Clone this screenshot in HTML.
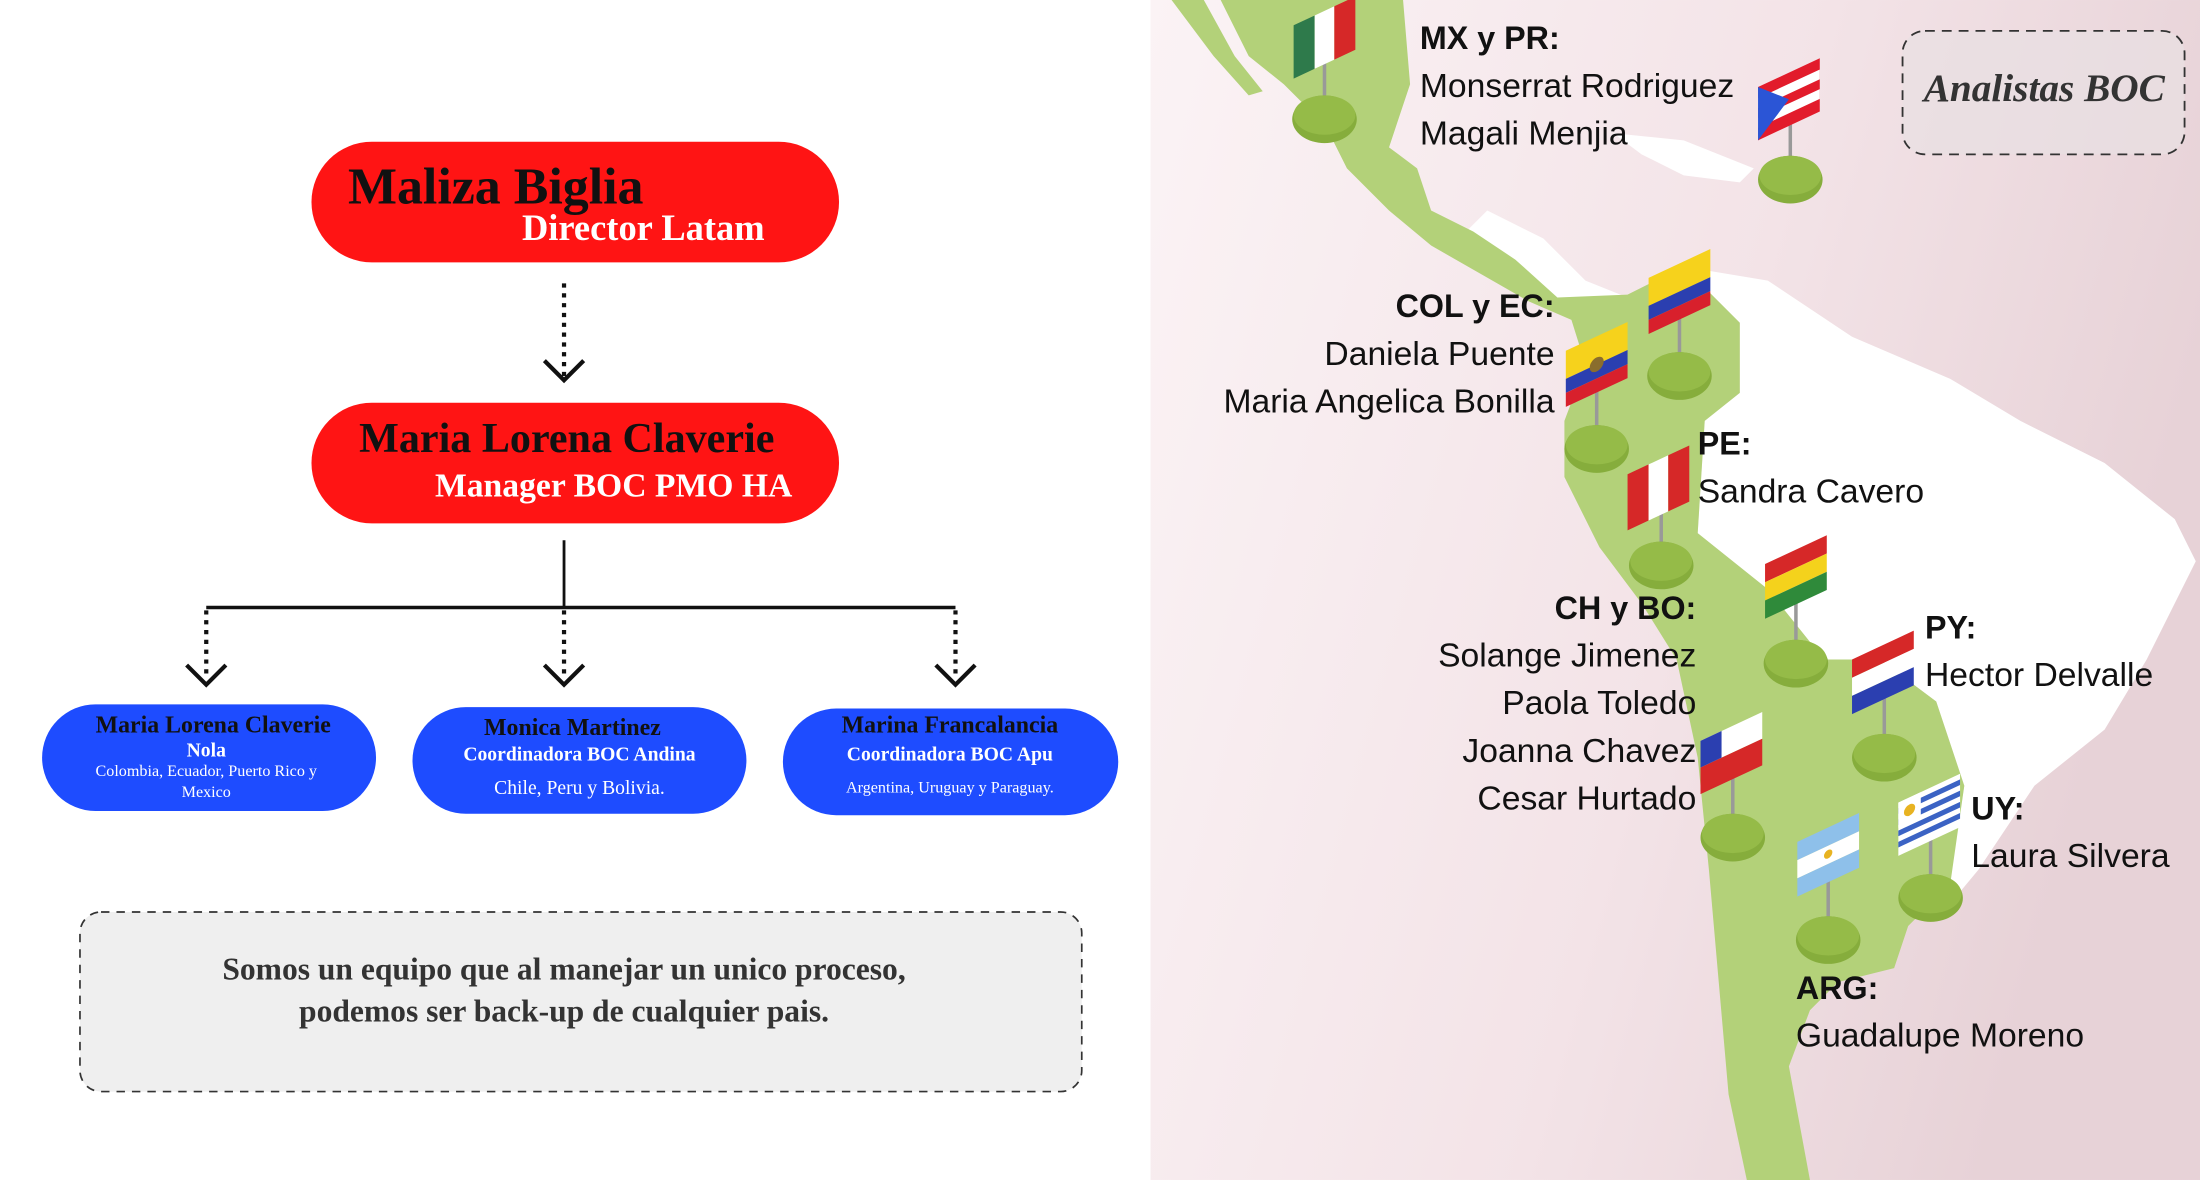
<!DOCTYPE html>
<html><head><meta charset="utf-8"><style>
html,body{margin:0;padding:0;background:#fff;width:2200px;height:1180px;overflow:hidden}
svg{display:block}
.n{font-family:"Liberation Sans",sans-serif;font-size:24px;fill:#111}
.h{font-family:"Liberation Sans",sans-serif;font-size:23px;font-weight:bold;fill:#111}
.s{font-family:"Liberation Serif",serif;font-weight:bold}
</style></head><body>
<svg width="2200" height="1180" viewBox="0 0 1568 841" xmlns="http://www.w3.org/2000/svg">
<defs>
<linearGradient id="bg" x1="0" y1="0" x2="1" y2="0.3">
<stop offset="0" stop-color="#fbf3f5"/><stop offset="0.6" stop-color="#f3e3e7"/><stop offset="1" stop-color="#e7d2d7"/>
</linearGradient>
<g id="base"><ellipse cx="0" cy="0" rx="23" ry="17" fill="#86ad3c"/><ellipse cx="0" cy="-3" rx="22" ry="14" fill="#95bb48"/></g>
</defs>
<rect x="0" y="0" width="1568" height="841" fill="#fff"/>
<rect x="820" y="0" width="748" height="841" fill="url(#bg)"/>
<!-- white land -->
<polygon fill="#fff" points="1200,190 1260,200 1320,240 1390,270 1440,300 1500,330 1550,370 1565,400 1530,470 1500,520 1450,560 1410,620 1385,650 1400,560 1380,500 1340,470 1300,470 1260,420 1210,380 1215,300 1240,280 1240,230"/>
<polygon fill="#fff" points="1040,170 1060,150 1100,170 1130,200 1160,212 1130,232 1095,215 1065,190"/>
<polygon fill="#fff" points="1150,95 1200,100 1250,120 1240,130 1200,125 1170,110"/>
<!-- green land -->
<polygon fill="#b3d179" points="870,0 1000,0 1005,60 990,105 1010,120 1020,150 1050,165 1080,185 1110,212 1160,210 1200,190 1240,230 1240,280 1215,300 1210,380 1260,420 1300,470 1340,470 1380,500 1400,560 1390,630 1360,660 1350,690 1310,700 1290,720 1275,760 1290,841 1245,841 1232,780 1225,700 1218,620 1210,540 1195,470 1170,430 1140,390 1115,340 1115,300 1130,260 1120,228 1090,215 1055,195 1020,175 990,150 960,120 945,90 915,60 890,40 880,20"/>
<polygon fill="#b3d179" points="835,0 858,0 880,40 900,65 890,68 865,40"/>
<!-- flags -->
<g stroke="#999" stroke-width="2.5">
<line x1="944" y1="30" x2="944" y2="82"/><line x1="1276" y1="80" x2="1276" y2="125"/><line x1="1197" y1="215" x2="1197" y2="265"/>
<line x1="1138" y1="275" x2="1138" y2="317"/><line x1="1184" y1="360" x2="1184" y2="400"/><line x1="1280" y1="425" x2="1280" y2="470"/>
<line x1="1343" y1="490" x2="1343" y2="537"/><line x1="1235" y1="550" x2="1235" y2="594"/><line x1="1376" y1="590" x2="1376" y2="637"/><line x1="1303" y1="625" x2="1303" y2="667"/>
</g>
<use href="#base" x="944" y="85"/><use href="#base" x="1276" y="128"/><use href="#base" x="1197" y="268"/><use href="#base" x="1138" y="320"/>
<use href="#base" x="1184" y="403"/><use href="#base" x="1280" y="473"/><use href="#base" x="1343" y="540"/><use href="#base" x="1235" y="597"/>
<use href="#base" x="1376" y="640"/><use href="#base" x="1303" y="670"/>
<g transform="translate(922,18) skewY(-25)"><rect width="15" height="38" fill="#2e7a4b"/><rect x="15" width="14" height="38" fill="#fff"/><rect x="29" width="15" height="38" fill="#d62828"/></g>
<g transform="translate(1253,62) skewY(-25)"><rect width="44" height="38" fill="#e21b2b"/><rect y="8" width="44" height="7" fill="#fff"/><rect y="22" width="44" height="7" fill="#fff"/><polygon points="0,0 22,19 0,38" fill="#2b55d6"/></g>
<g transform="translate(1175,198) skewY(-25)"><rect width="44" height="20" fill="#f6d21c"/><rect y="20" width="44" height="10" fill="#2b3fb0"/><rect y="30" width="44" height="10" fill="#d8202c"/></g>
<g transform="translate(1116,250) skewY(-25)"><rect width="44" height="20" fill="#f6d21c"/><rect y="20" width="44" height="10" fill="#2b3fb0"/><rect y="30" width="44" height="10" fill="#d8202c"/><circle cx="22" cy="20" r="5" fill="#8a6d2d"/></g>
<g transform="translate(1160,338) skewY(-25)"><rect width="15" height="40" fill="#d62828"/><rect x="15" width="14" height="40" fill="#fff"/><rect x="29" width="15" height="40" fill="#d62828"/></g>
<g transform="translate(1258,402) skewY(-25)"><rect width="44" height="13" fill="#d62828"/><rect y="13" width="44" height="13" fill="#f4d21c"/><rect y="26" width="44" height="13" fill="#2f8a3a"/></g>
<g transform="translate(1320,470) skewY(-25)"><rect width="44" height="13" fill="#d62828"/><rect y="13" width="44" height="13" fill="#fff"/><rect y="26" width="44" height="13" fill="#2b3fb0"/></g>
<g transform="translate(1212,528) skewY(-25)"><rect width="44" height="19" fill="#fff"/><rect y="19" width="44" height="19" fill="#d62828"/><rect width="15" height="19" fill="#2b3fb0"/></g>
<g transform="translate(1353,572) skewY(-25)"><rect width="44" height="38" fill="#fff"/><rect y="4" width="44" height="4" fill="#3b63c4"/><rect y="12" width="44" height="4" fill="#3b63c4"/><rect y="20" width="44" height="4" fill="#3b63c4"/><rect y="28" width="44" height="4" fill="#3b63c4"/><rect width="16" height="18" fill="#fff"/><circle cx="8" cy="9" r="4" fill="#e8b321"/></g>
<g transform="translate(1281,600) skewY(-25)"><rect width="44" height="13" fill="#8ec0ea"/><rect y="13" width="44" height="13" fill="#fff"/><rect y="26" width="44" height="13" fill="#8ec0ea"/><circle cx="22" cy="19" r="3" fill="#e8b321"/></g>
<!-- map text -->
<text class="h" x="1012" y="35">MX y PR:</text>
<text class="n" x="1012" y="69">Monserrat Rodriguez</text>
<text class="n" x="1012" y="103">Magali Menjia</text>
<g text-anchor="end">
<text class="h" x="1108" y="226">COL y EC:</text>
<text class="n" x="1108" y="260">Daniela Puente</text>
<text class="n" x="1108" y="294">Maria Angelica Bonilla</text>
<text class="h" x="1209" y="441">CH y BO:</text>
<text class="n" x="1209" y="475">Solange Jimenez</text>
<text class="n" x="1209" y="509">Paola Toledo</text>
<text class="n" x="1209" y="543">Joanna Chavez</text>
<text class="n" x="1209" y="577">Cesar Hurtado</text>
</g>
<text class="h" x="1210" y="324">PE:</text>
<text class="n" x="1210" y="358">Sandra Cavero</text>
<text class="h" x="1372" y="455">PY:</text>
<text class="n" x="1372" y="489">Hector Delvalle</text>
<text class="h" x="1405" y="584">UY:</text>
<text class="n" x="1405" y="618">Laura Silvera</text>
<text class="h" x="1280" y="712">ARG:</text>
<text class="n" x="1280" y="746">Guadalupe Moreno</text>
<rect x="1356" y="22" width="201" height="88" rx="16" fill="#e8e0e2" fill-opacity="0.7" stroke="#333" stroke-width="1.3" stroke-dasharray="7,5"/>
<text x="1457" y="72" text-anchor="middle" font-family="'Liberation Serif',serif" font-style="italic" font-weight="bold" font-size="28" fill="#333">Analistas BOC</text>
<!-- org chart -->
<rect x="222" y="101" width="376" height="86" rx="43" fill="#ff1414"/>
<text class="s" x="248" y="145" font-size="37" fill="#111">Maliza Biglia</text>
<text class="s" x="372" y="171" font-size="26" fill="#fff">Director Latam</text>
<rect x="222" y="287" width="376" height="86" rx="43" fill="#ff1414"/>
<text class="s" x="256" y="322" font-size="30" fill="#111">Maria Lorena Claverie</text>
<text class="s" x="310" y="354" font-size="24" fill="#fff">Manager BOC PMO HA</text>
<g stroke="#111" stroke-width="3" fill="none">
<line x1="402" y1="202" x2="402" y2="268" stroke-dasharray="3,4"/>
<polyline points="388,257 402,271 416,257"/>
<line x1="402" y1="385" x2="402" y2="433" stroke-width="2"/>
<line x1="147" y1="433" x2="681" y2="433" stroke-width="2.5"/>
<line x1="147" y1="435" x2="147" y2="484" stroke-dasharray="3,4"/>
<line x1="402" y1="435" x2="402" y2="484" stroke-dasharray="3,4"/>
<line x1="681" y1="435" x2="681" y2="484" stroke-dasharray="3,4"/>
<polyline points="133,474 147,488 161,474"/>
<polyline points="388,474 402,488 416,474"/>
<polyline points="667,474 681,488 695,474"/>
</g>
<rect x="30" y="502" width="238" height="76" rx="38" fill="#1e4cff"/>
<text class="s" x="152" y="522" font-size="17" text-anchor="middle" fill="#111">Maria Lorena Claverie</text>
<text class="s" x="147" y="539" font-size="14" text-anchor="middle" fill="#fff">Nola</text>
<text x="147" y="553" font-family="'Liberation Serif',serif" font-size="11.5" text-anchor="middle" fill="#fff">Colombia, Ecuador, Puerto Rico y</text>
<text x="147" y="568" font-family="'Liberation Serif',serif" font-size="11.5" text-anchor="middle" fill="#fff">Mexico</text>
<rect x="294" y="504" width="238" height="76" rx="38" fill="#1e4cff"/>
<text class="s" x="408" y="524" font-size="17" text-anchor="middle" fill="#111">Monica Martinez</text>
<text class="s" x="413" y="542" font-size="14" text-anchor="middle" fill="#fff">Coordinadora BOC Andina</text>
<text x="413" y="566" font-family="'Liberation Serif',serif" font-size="14" text-anchor="middle" fill="#fff">Chile, Peru y Bolivia.</text>
<rect x="558" y="505" width="239" height="76" rx="38" fill="#1e4cff"/>
<text class="s" x="677" y="522" font-size="17" text-anchor="middle" fill="#111">Marina Francalancia</text>
<text class="s" x="677" y="542" font-size="14" text-anchor="middle" fill="#fff">Coordinadora BOC Apu</text>
<text x="677" y="565" font-family="'Liberation Serif',serif" font-size="11.5" text-anchor="middle" fill="#fff">Argentina, Uruguay y Paraguay.</text>
<rect x="57" y="650" width="714" height="128" rx="15" fill="#efefef" stroke="#333" stroke-width="1.2" stroke-dasharray="6,5"/>
<text class="s" x="402" y="698" font-size="22.5" text-anchor="middle" fill="#333">Somos un equipo que al manejar un unico proceso,</text>
<text class="s" x="402" y="728" font-size="22.5" text-anchor="middle" fill="#333">podemos ser back-up de cualquier pais.</text>
</svg>
</body></html>
